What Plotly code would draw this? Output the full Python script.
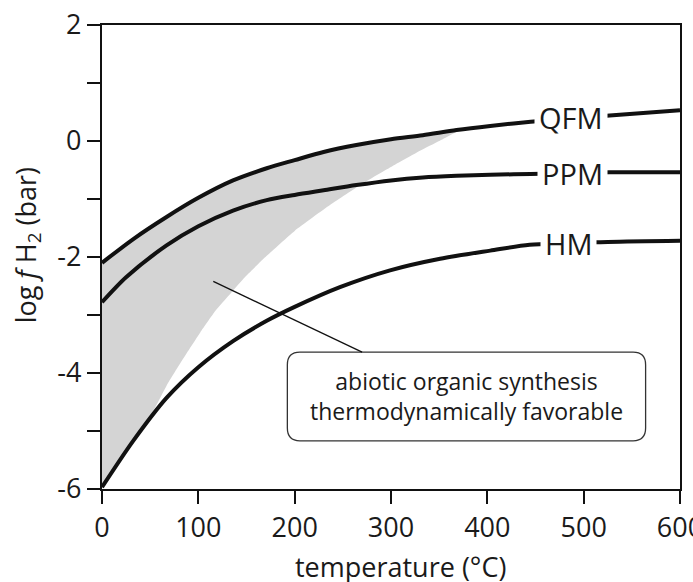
import plotly.graph_objects as go

# ---- data ----
qfm_t = [0, 32.5, 67, 100, 136, 171, 200, 230, 264, 300, 333, 368, 403, 445, 527, 600]
qfm_y = [-2.10, -1.69, -1.31, -0.98, -0.68, -0.47, -0.33, -0.19, -0.07, 0.03, 0.10, 0.19, 0.26, 0.33, 0.44, 0.53]

ppm_t = [0, 25, 67, 100, 136, 171, 200, 230, 264, 300, 333, 368, 403, 445, 527, 600]
ppm_y = [-2.78, -2.35, -1.80, -1.47, -1.20, -1.02, -0.93, -0.85, -0.76, -0.68, -0.63, -0.60, -0.58, -0.57, -0.54, -0.54]

hm_t = [0, 32, 67, 100, 136, 171, 200, 247, 299, 351, 403, 444, 525, 600]
hm_y = [-5.97, -5.18, -4.43, -3.90, -3.45, -3.10, -2.86, -2.52, -2.23, -2.03, -1.89, -1.79, -1.74, -1.72]

# boundary of the favourable field (from QFM tip down to HM)
edge_t = [372, 350, 330, 300, 270, 237, 200, 171, 150, 136, 119, 102, 84, 67, 55, 32, 0]
edge_y = [0.20, 0.00, -0.17, -0.45, -0.74, -1.10, -1.55, -1.98, -2.32, -2.58, -2.90, -3.30, -3.76, -4.22, -4.60, -5.18, -5.97]

x_ticks = [0, 100, 200, 300, 400, 500, 600]
y_ticks = [-6, -4, -2, 0, 2]
y_ticktext = ["-6", "-4", "-2", "0", "2"]

curve_labels = ["QFM", "PPM", "HM"]
note_lines = ["abiotic organic synthesis", "thermodynamically favorable"]

# ---- figure ----
FONT = "Open Sans"
INK = "#1a1a1a"

# shaded polygon: QFM from 0 to tip, then boundary back to the axis
fill_t = [t for t in qfm_t if t <= 368] + edge_t
fill_y = [y for t, y in zip(qfm_t, qfm_y) if t <= 368] + edge_y

fig = go.Figure()
fig.add_trace(go.Scatter(x=fill_t, y=fill_y, fill="toself", fillcolor="#d4d4d4",
                         mode="lines", line=dict(width=0, color="#d4d4d4", shape="spline", smoothing=0.5),
                         hoverinfo="skip", showlegend=False))
for t, y in [(qfm_t, qfm_y), (ppm_t, ppm_y), (hm_t, hm_y)]:
    fig.add_trace(go.Scatter(x=t, y=y, mode="lines",
                             line=dict(color="#111111", width=4, shape="spline", smoothing=0.8),
                             showlegend=False, hoverinfo="skip"))

# curve labels with white background to break the lines
label_pos = [(487, 0.40), (488, -0.56), (484, -1.77)]
for txt, (lx, ly) in zip(curve_labels, label_pos):
    fig.add_annotation(x=lx, y=ly, text=txt, showarrow=False,
                       font=dict(family=FONT, size=29, color=INK),
                       bgcolor="white", borderpad=4)

# rounded note box
x0, x1, y0, y1 = 192.4, 564.3, -5.17, -3.64
rx, ry = 13.0, 0.22
path = (f"M {x0+rx},{y1} L {x1-rx},{y1} Q {x1},{y1} {x1},{y1-ry} "
        f"L {x1},{y0+ry} Q {x1},{y0} {x1-rx},{y0} L {x0+rx},{y0} "
        f"Q {x0},{y0} {x0},{y0+ry} L {x0},{y1-ry} Q {x0},{y1} {x0+rx},{y1} Z")
fig.add_shape(type="path", path=path, xref="x", yref="y",
              line=dict(color="#333333", width=1.3), fillcolor="white")
fig.add_shape(type="line", x0=115.5, y0=-2.42, x1=270, y1=-3.64, xref="x", yref="y",
              line=dict(color="#111111", width=1.3))
fig.add_annotation(x=(x0 + x1) / 2, y=(y0 + y1) / 2, text="<br>".join(note_lines),
                   showarrow=False, font=dict(family=FONT, size=23, color=INK),
                   align="center")

# axis titles as annotations for precise placement
fig.add_annotation(xref="paper", yref="paper", x=-0.129, y=0.526,
                   text="log <i>f</i> H<sub>2</sub> (bar)", textangle=-90,
                   showarrow=False, font=dict(family=FONT, size=27, color=INK),
                   xanchor="center", yanchor="middle")
fig.add_annotation(xref="paper", yref="paper", x=0.516, y=-0.168,
                   text="temperature (°C)", showarrow=False,
                   font=dict(family=FONT, size=27, color=INK),
                   xanchor="center", yanchor="middle")

axis_common = dict(ticks="outside", ticklen=13, tickwidth=2.2, tickcolor="#111",
                   showline=True, linecolor="#111", linewidth=2.4, mirror=True,
                   showgrid=False, zeroline=False, ticklabeloverflow="allow",
                   automargin=False,
                   tickfont=dict(family=FONT, size=27, color=INK))
fig.update_xaxes(range=[0, 600], tickvals=x_ticks, ticktext=[str(v) for v in x_ticks],
                 **axis_common)
fig.update_yaxes(range=[-6, 2], tickvals=y_ticks, ticktext=y_ticktext,
                 minor=dict(tickmode="linear", tick0=0, dtick=1, ticks="outside",
                            ticklen=13, tickwidth=2.2, tickcolor="#111", showgrid=False),
                 **axis_common)

fig.update_layout(width=693, height=582, margin=dict(l=102, r=13, t=25, b=93, autoexpand=False),
                  paper_bgcolor="white", plot_bgcolor="white", showlegend=False)

fig.write_html("out.html")
